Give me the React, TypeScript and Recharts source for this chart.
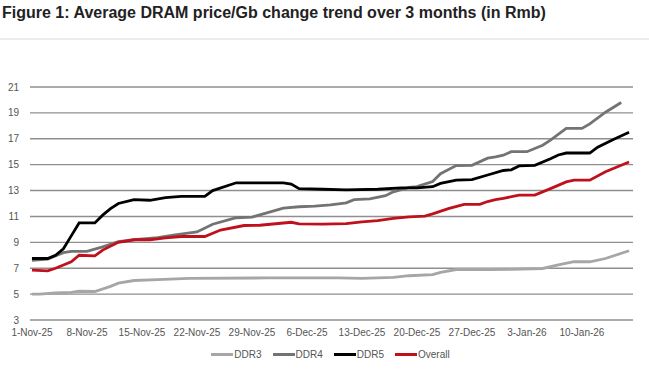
import React from 'react';
import { LineChart, Line, XAxis, YAxis, CartesianGrid } from 'recharts';

// day index from 1-Nov-25
const xTickDays = [0, 7, 14, 21, 28, 35, 42, 49, 56, 63, 70];
const xTickLabels = ['1-Nov-25', '8-Nov-25', '15-Nov-25', '22-Nov-25', '29-Nov-25', '6-Dec-25', '13-Dec-25', '20-Dec-25', '27-Dec-25', '3-Jan-26', '10-Jan-26'];
const yTicks = [3, 5, 7, 9, 11, 13, 15, 17, 19, 21];

const ddr3Days = [0, 1, 3, 5, 6, 8, 10, 11, 13, 16, 20, 30, 39, 42, 46, 48, 51, 52, 54, 58, 61, 65, 67, 69, 71, 73, 76];
const ddr3Values = [5.0, 5.0, 5.1, 5.13, 5.22, 5.2, 5.6, 5.85, 6.05, 6.12, 6.22, 6.25, 6.25, 6.22, 6.3, 6.42, 6.5, 6.68, 6.9, 6.9, 6.92, 6.98, 7.25, 7.5, 7.5, 7.75, 8.35];

const ddr4Days = [0, 2, 4, 5, 7, 9, 11, 13, 16, 18, 21, 23, 26, 28, 30, 32, 34, 36, 38, 40, 41, 43, 45, 46, 48, 49, 51, 52, 54, 56, 58, 59, 60, 61, 63, 65, 66, 68, 70, 71, 73, 75];
const ddr4Values = [7.6, 7.7, 8.2, 8.3, 8.3, 8.65, 9.05, 9.2, 9.37, 9.55, 9.8, 10.4, 10.9, 10.95, 11.3, 11.65, 11.75, 11.8, 11.9, 12.05, 12.3, 12.35, 12.6, 12.9, 13.25, 13.3, 13.7, 14.3, 14.93, 14.95, 15.5, 15.6, 15.73, 16.0, 16.0, 16.5, 16.9, 17.8, 17.8, 18.15, 19.05, 19.8];

const ddr5Days = [0, 2, 3, 4, 5, 6, 8, 9, 10, 11, 13, 15, 17, 19, 22, 23, 26, 32, 33, 34, 37, 40, 44, 47, 49, 51, 52, 54, 56, 58, 60, 61, 62, 64, 66, 67, 68, 71, 72, 74, 76];
const ddr5Values = [7.75, 7.75, 8.0, 8.5, 9.5, 10.5, 10.5, 11.1, 11.6, 12.0, 12.3, 12.25, 12.45, 12.55, 12.55, 13.0, 13.6, 13.6, 13.5, 13.15, 13.1, 13.05, 13.1, 13.2, 13.2, 13.3, 13.55, 13.8, 13.85, 14.2, 14.55, 14.6, 14.9, 14.95, 15.45, 15.75, 15.9, 15.9, 16.35, 16.95, 17.5];

const overallDays = [0, 2, 3, 5, 6, 8, 9, 11, 13, 15, 17, 19, 22, 24, 27, 29, 33, 34, 37, 40, 42, 44, 46, 48, 50, 51, 53, 55, 57, 58, 59, 60, 62, 64, 66, 68, 69, 71, 73, 76];
const overallValues = [6.85, 6.8, 7.0, 7.5, 8.0, 7.95, 8.4, 9.0, 9.2, 9.2, 9.35, 9.45, 9.45, 9.95, 10.3, 10.32, 10.55, 10.42, 10.4, 10.45, 10.58, 10.67, 10.85, 10.97, 11.03, 11.2, 11.6, 11.93, 11.93, 12.15, 12.3, 12.4, 12.65, 12.65, 13.15, 13.67, 13.8, 13.8, 14.45, 15.2];

const toPoints = (days: number[], values: number[]) => days.map((d, i) => ({ day: d, value: values[i] }));

const series = [
  { name: 'DDR3', color: '#a6a6a6', data: toPoints(ddr3Days, ddr3Values) },
  { name: 'DDR4', color: '#737373', data: toPoints(ddr4Days, ddr4Values) },
  { name: 'DDR5', color: '#000000', data: toPoints(ddr5Days, ddr5Values) },
  { name: 'Overall', color: '#c0101c', data: toPoints(overallDays, overallValues) },
];

const font = "'Liberation Sans', Arial, sans-serif";

const YTick = (props: any) => {
  const { x, y, payload } = props;
  return (
    <g>
      <circle cx={x + 4} cy={y} r={2} fill="#fff" />
      <text x={x} y={y} dy={3.5} textAnchor="end" fontSize={10} fill="#555" fontFamily={font}>
        {String(payload.value)}
      </text>
    </g>
  );
};

const App: React.FC = () => {
  return (
    <div style={{ position: 'absolute', top: 0, left: 0, width: 649, height: 382, background: '#fff', fontFamily: font }}>
      <div style={{ position: 'absolute', top: 4, left: 2, fontSize: 16, fontWeight: 'bold', color: '#222', whiteSpace: 'nowrap' }}>
        Figure 1: Average DRAM price/Gb change trend over 3 months (in Rmb)
      </div>
      <div style={{ position: 'absolute', top: 38, left: 0, width: 649, height: 2, background: '#ececec' }} />
      <LineChart width={649} height={382} margin={{ top: 87, right: 16, left: 0, bottom: 32 }}>
        <CartesianGrid vertical={false} stroke="#8f8f8f" strokeWidth={1.4} />
        <XAxis
          dataKey="day"
          type="number"
          domain={[-0.25, 76.5]}
          ticks={xTickDays}
          tickFormatter={(d: number) => xTickLabels[xTickDays.indexOf(d)]}
          axisLine={false}
          tickLine={false}
          tickSize={0}
          tickMargin={9}
          height={30}
          interval={0}
          tick={{ fontSize: 10, fill: '#555', fontFamily: font }}
        />
        <YAxis
          type="number"
          domain={[3, 21]}
          ticks={yTicks}
          axisLine={false}
          tickLine={false}
          tickSize={0}
          tickMargin={11}
          width={30}
          interval={0}
          tick={<YTick />}
        />
        {series.map((s) => (
          <Line
            key={s.name}
            data={s.data}
            dataKey="value"
            name={s.name}
            type="linear"
            stroke={s.color}
            strokeWidth={2.8}
            dot={false}
            isAnimationActive={false}
          />
        ))}
      </LineChart>
      <div style={{ position: 'absolute', top: 349, left: 0, width: 661, display: 'flex', justifyContent: 'center', gap: 11 }}>
        {series.map((s) => (
          <div key={s.name} style={{ display: 'flex', alignItems: 'center', fontSize: 10, color: '#555' }}>
            <span style={{ display: 'inline-block', width: 22, height: 3, background: s.color, marginRight: 1 }} />
            {s.name}
          </div>
        ))}
      </div>
    </div>
  );
};

export default App;
